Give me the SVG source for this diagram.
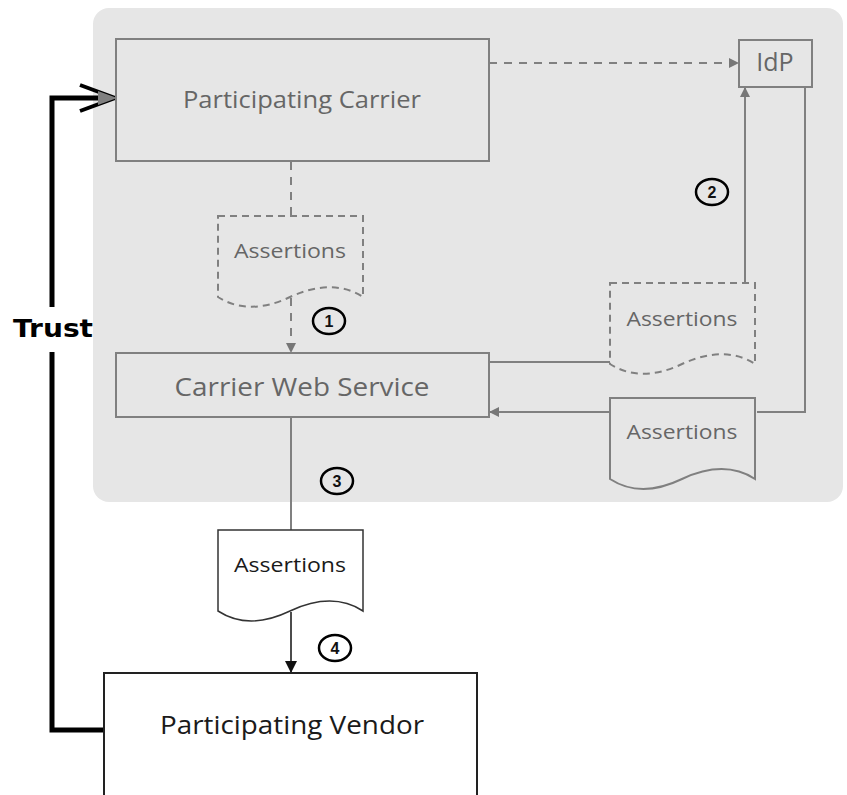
<svg xmlns="http://www.w3.org/2000/svg" width="847" height="795" viewBox="0 0 847 795">
<style>
.lbl{font-family:"Open Sans","DejaVu Sans",sans-serif;fill:#666;text-anchor:middle}
.dark{fill:#1a1a1a}
.box{fill:#e6e6e6;stroke:#808080;stroke-width:2}
.conn{fill:none;stroke:#808080;stroke-width:2}
.dash{stroke-dasharray:8 7}
.docd{fill:#e6e6e6;stroke:#808080;stroke-width:2;stroke-dasharray:7 5}
.docs{fill:#e6e6e6;stroke:#808080;stroke-width:2}
.num{fill:none;stroke:#000;stroke-width:2.5}
.numt{font-family:"Liberation Sans",Arial,sans-serif;font-weight:bold;font-size:16px;fill:#111;text-anchor:middle}
</style>
<defs>
<path id="doc" d="M0,0 H145 V81 C125,68 100,68 72,81 C45,94 20,94 0,81 Z"/>
<marker id="ag" markerWidth="10" markerHeight="10" refX="9" refY="5" orient="auto" markerUnits="userSpaceOnUse">
<path d="M0,0 L10,5 L0,10 Z" fill="#777"/>
</marker>
<marker id="ab" markerWidth="12" markerHeight="12" refX="11" refY="6" orient="auto" markerUnits="userSpaceOnUse">
<path d="M0,0 L12,6 L0,12 Z" fill="#111"/>
</marker>
</defs>
<rect x="93" y="8" width="750" height="494" rx="16" fill="#e6e6e6"/>

<g id="connectors">
<line class="conn dash" x1="489" y1="63" x2="738" y2="63" marker-end="url(#ag)"/>
<line class="conn dash" x1="291" y1="162" x2="291" y2="216"/>
<line class="conn dash" x1="291" y1="298" x2="291" y2="352" marker-end="url(#ag)"/>
<line class="conn" x1="489" y1="362" x2="610" y2="362"/>
<line class="conn" x1="745" y1="283" x2="745" y2="88" marker-end="url(#ag)"/>
<polyline class="conn" points="805,87 805,412 757,412"/>
<line class="conn" x1="610" y1="412" x2="490" y2="412" marker-end="url(#ag)"/>
<line class="conn" x1="291" y1="417" x2="291" y2="530"/>
<line x1="291" y1="612" x2="291" y2="672" stroke="#111" stroke-width="1.5" marker-end="url(#ab)"/>
<polyline points="104,730 52,730 52,352" fill="none" stroke="#000" stroke-width="5"/>
<polyline points="52,307 52,98 112,98" fill="none" stroke="#000" stroke-width="5"/>
<polyline points="80,85 115,98 80,111" fill="none" stroke="#000" stroke-width="4"/>
<polygon points="98,91 117,98 98,105" fill="#808080"/>
</g>

<g id="carrier">
<rect class="box" x="116" y="39" width="373" height="122"/>
<text class="lbl" x="302" y="108" font-size="24" textLength="238" lengthAdjust="spacingAndGlyphs">Participating Carrier</text>
</g>
<g id="idp">
<rect class="box" x="739" y="40" width="73" height="47"/>
<text class="lbl" x="775" y="71" font-size="25">IdP</text>
</g>
<g id="assertions1">
<use href="#doc" x="218" y="216" class="docd"/>
<text class="lbl" x="290" y="258" font-size="20" textLength="112" lengthAdjust="spacingAndGlyphs">Assertions</text>
</g>
<g id="cws">
<rect class="box" x="116" y="353" width="373" height="64"/>
<text class="lbl" x="302" y="396" font-size="25" textLength="255" lengthAdjust="spacingAndGlyphs">Carrier Web Service</text>
</g>
<g id="assertions2">
<use href="#doc" x="610" y="283" class="docd"/>
<text class="lbl" x="682" y="326" font-size="20" textLength="111" lengthAdjust="spacingAndGlyphs">Assertions</text>
</g>
<g id="assertions3">
<use href="#doc" x="610" y="398" class="docs"/>
<text class="lbl" x="682" y="439" font-size="20" textLength="111" lengthAdjust="spacingAndGlyphs">Assertions</text>
</g>
<g id="assertions4">
<use href="#doc" x="218" y="530" fill="#fff" stroke="#333" stroke-width="1.5"/>
<text class="lbl dark" x="290" y="572" font-size="20" textLength="112" lengthAdjust="spacingAndGlyphs">Assertions</text>
</g>
<g id="vendor">
<rect x="104" y="673" width="373" height="130" fill="#fff" stroke="#222" stroke-width="2"/>
<text class="lbl dark" x="292" y="734" font-size="25" textLength="264" lengthAdjust="spacingAndGlyphs">Participating Vendor</text>
</g>
<g id="trust">
<text x="53" y="337" font-family="'DejaVu Sans',Verdana,sans-serif" font-weight="bold" font-size="25" text-anchor="middle" fill="#000" textLength="80" lengthAdjust="spacingAndGlyphs">Trust</text>
</g>
<g id="n1"><ellipse class="num" cx="329" cy="321" rx="16" ry="13"/><text class="numt" x="329" y="327">1</text></g>
<g id="n2"><ellipse class="num" cx="712" cy="192" rx="16" ry="13"/><text class="numt" x="712" y="198">2</text></g>
<g id="n3"><ellipse class="num" cx="337" cy="481" rx="16" ry="13"/><text class="numt" x="337" y="487">3</text></g>
<g id="n4"><ellipse class="num" cx="335" cy="648" rx="16" ry="13"/><text class="numt" x="335" y="654">4</text></g>
</svg>
